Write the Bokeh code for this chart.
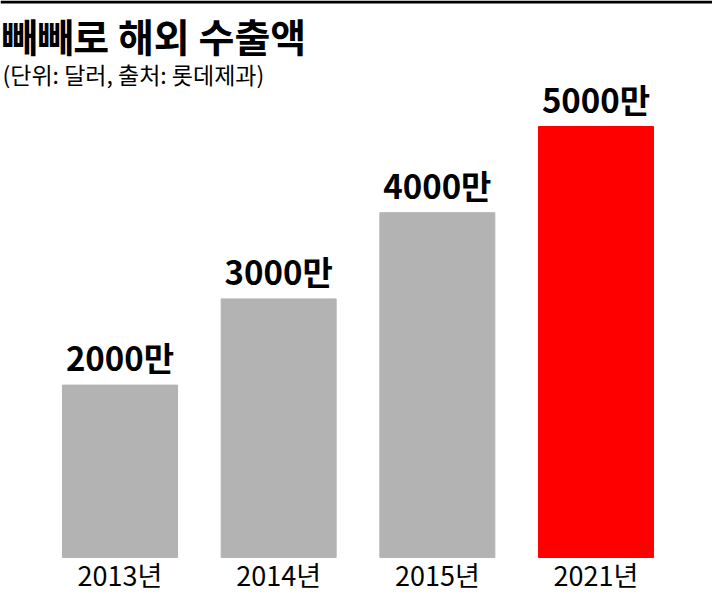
import numpy as np
from bokeh.plotting import figure
from bokeh.models import Range1d, Label, BoxAnnotation, ColumnDataSource
from bokeh.core.properties import value
from bokeh.embed import file_html
from bokeh.resources import INLINE

# ---- data ----
title = "빼빼로 해외 수출액"
subtitle = "(단위: 달러, 출처: 롯데제과)"
years = ["2013년", "2014년", "2015년", "2021년"]
exports = [2000, 3000, 4000, 5000]          # 만 달러
value_labels = ["2000만", "3000만", "4000만", "5000만"]
bar_colors = ["#b3b3b3", "#b3b3b3", "#b3b3b3", "#ff0000"]

# ---- layout helpers (pixels -> data) ----
W, H = 712, 594
BASE = 557.0          # pixel row of zero
PX_PER_UNIT = 86.2 / 1000.0
X0, STEP = 119.5, 158.67


def ydat(py):
    return (BASE - py) / PX_PER_UNIT


def xdat(px):
    return (px - X0) / STEP


FONT = "Noto Sans CJK KR"

p = figure(width=W, height=H, output_backend="svg", toolbar_location=None,
           x_range=Range1d(xdat(0), xdat(W)), y_range=Range1d(ydat(H), ydat(0)),
           x_axis_location=None, y_axis_location=None,
           min_border=0, outline_line_color=None, background_fill_color="white")
p.grid.visible = False

positions = list(range(len(years)))
src = ColumnDataSource(dict(x=positions, top=exports, color=bar_colors,
                            vlab=value_labels, year=years))

p.vbar(x="x", top="top", bottom=0, width=115 / STEP, color="color", source=src)

p.text(x="x", y="top", text="vlab", source=src, text_align="center",
       text_baseline="middle", y_offset=-28,
       text_font=value(FONT), text_font_size="33px", text_font_style="bold",
       text_color="black")

p.text(x="x", y=0, text="year", source=src, text_align="center",
       text_baseline="middle", y_offset=17,
       text_font=value(FONT), text_font_size="27px", text_color="black")

# top rule
p.add_layout(BoxAnnotation(bottom=ydat(3), top=ydat(0), fill_color="black",
                           fill_alpha=1.0, line_color=None))

p.add_layout(Label(x=xdat(1), y=ydat(34), text=title, text_font=FONT,
                   text_font_size="39px", text_font_style="bold",
                   text_baseline="middle", text_color="black"))
p.add_layout(Label(x=xdat(2), y=ydat(73), text=subtitle, text_font=FONT,
                   text_font_size="23px", text_baseline="middle",
                   text_color="black"))

open("out.html", "w").write(file_html(p, INLINE))
